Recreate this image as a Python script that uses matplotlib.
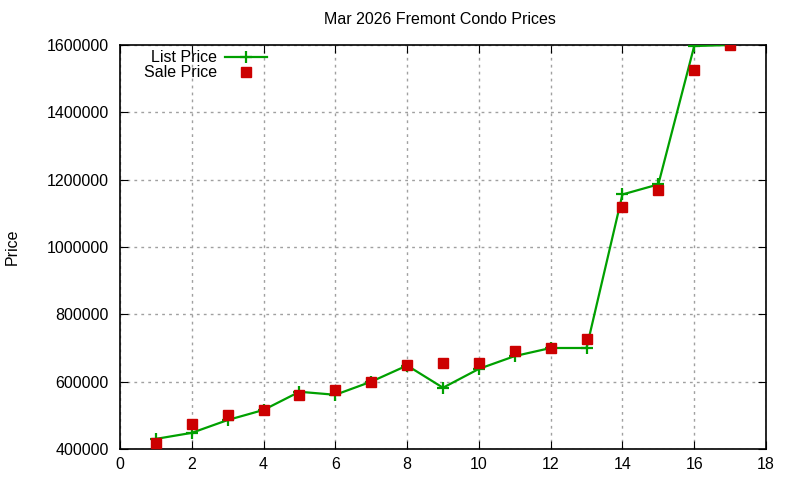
import matplotlib
matplotlib.use("Agg")
import matplotlib.pyplot as plt
from matplotlib.ticker import FixedLocator

x_idx = [1, 2, 3, 4, 5, 6, 7, 8, 9, 10, 11, 12, 13, 14, 15, 16, 17]
list_price = [430000, 448000, 486000, 516000, 570000, 561000, 600000, 648000, 582000,
              638000, 676000, 700000, 700000, 1156000, 1186000, 1597000, 1600000]
sale_price = [417000, 475000, 500000, 516000, 560000, 575000, 600000, 650000, 655000,
              655000, 690000, 700000, 726000, 1118000, 1168000, 1525000, 1600000]
title = "Mar 2026 Fremont Condo Prices"
x_ticks = [0, 2, 4, 6, 8, 10, 12, 14, 16, 18]
y_ticks = [400000, 600000, 800000, 1000000, 1200000, 1400000, 1600000]

plt.rcParams['font.family'] = ['Liberation Sans', 'DejaVu Sans']
fig = plt.figure(figsize=(8, 4.8), dpi=100)
ax = fig.add_axes([120/800, 1-449/480, (766-120)/800, (449-45)/480])

ax.plot(x_idx, list_price, color='#00a000', lw=1.6, marker='+', ms=9, mew=1.6,
        label='List Price', zorder=3)
ax.plot(x_idx, sale_price, ls='none', color='#cc0000', marker='s', ms=6.5,
        label='Sale Price', zorder=4)

ax.set_xlim(0, 18)
ax.set_ylim(400000, 1600000)
ax.xaxis.set_major_locator(FixedLocator(x_ticks))
ax.yaxis.set_major_locator(FixedLocator(y_ticks))
ax.set_xticklabels([str(t) for t in x_ticks])
ax.set_yticklabels([str(t) for t in y_ticks])
ax.tick_params(direction='in', top=True, right=True, length=6, labelsize=11.5, colors='black')
ax.tick_params(axis='y', pad=8)
ax.tick_params(axis='x', pad=6)
ax.grid(True, color='#a0a0a0', ls=(0, (2, 3)), lw=1)
for s in ax.spines.values():
    s.set_linewidth(1.2)

fig.text(440/800, 1-20/480, title, ha='center', va='center', fontsize=11.5)
fig.text(12/800, 1-247/480, 'Price', rotation=90, ha='center', va='center', fontsize=11.5)

leg = ax.legend(loc='upper left', bbox_to_anchor=(0.02, 1.015), markerfirst=False, frameon=False,
                fontsize=11.5, handlelength=2.6, handletextpad=0.5, borderaxespad=0.3,
                labelspacing=0.0)
for t in leg.get_texts():
    t.set_ha('right')

fig.savefig('out.png', dpi=100)
